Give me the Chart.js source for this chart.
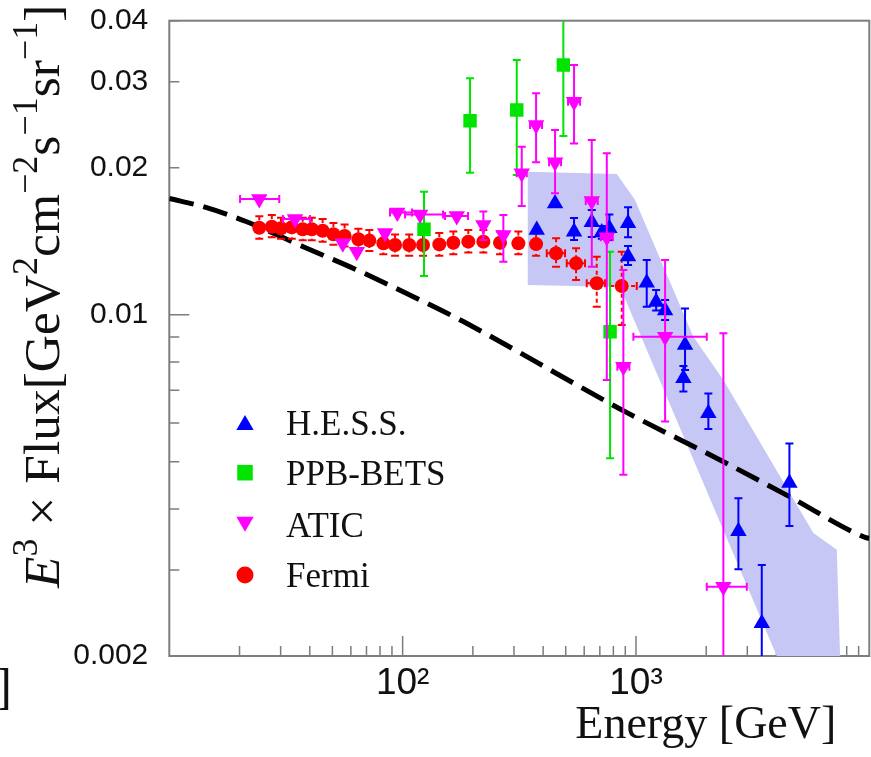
<!DOCTYPE html>
<html>
<head>
<meta charset="utf-8">
<script src="https://cdn.jsdelivr.net/npm/chart.js@4.4.0/dist/chart.umd.min.js"></script>
<style>
  body { margin: 0; background: #fff; }
</style>
</head>
<body>
<canvas id="electronChart" width="871" height="757"></canvas>
<script>
// values: energy in GeV, E^3 x flux in GeV^2 cm^-2 s^-1 sr^-1

// H.E.S.S.
const hessE  = [375.6, 450, 542.8, 646.6, 713.7, 769.1, 924.9, 924.9, 1112, 1220, 1333, 1623, 1597, 2043, 2748, 3461, 4546];
const hessF  = [0.01491, 0.0169, 0.01479, 0.01546, 0.01474, 0.01503, 0.01539, 0.01315, 0.01163, 0.01062, 0.0102, 0.00867, 0.00741, 0.00628, 0.0036, 0.002334, 0.00452];
const hessLo = [null, null, 0.01422, 0.01442, 0.0143, 0.01422, 0.0144, 0.01264, 0.01038, 0.0102, 0.00975, 0.0077, 0.00696, 0.00583, 0.00301, 0.0018, 0.00369];
const hessHi = [null, null, 0.01578, 0.01638, 0.0152, 0.01604, 0.01659, 0.01383, 0.01294, 0.01124, 0.01072, 0.0103, 0.00785, 0.0069, 0.00421, 0.00307, 0.00545];

// PPB-BETS
const ppbE  = [123.5, 194.5, 308.4, 488.4, 774.5];
const ppbF  = [0.01496, 0.02496, 0.02625, 0.03246, 0.00923];
const ppbLo = [0.012, 0.01953, 0.01932, 0.02322, 0.00508];
const ppbHi = [0.01786, 0.03048, 0.03323, 0.042, 0.01346];

// ATIC
const aticE   = [24.3, 34.6, 55.4, 63.6, 84.1, 94.9, 118.8, 170.6, 221.8, 270.2, 324, 373.2, 450, 542.8, 646.6, 749.9, 883, 1333, 2369];
const aticF   = [0.01725, 0.0157, 0.014, 0.01346, 0.0147, 0.01619, 0.01604, 0.01593, 0.01526, 0.01456, 0.01948, 0.02446, 0.02051, 0.0273, 0.01709, 0.0144, 0.00782, 0.00901, 0.002773];
const aticLo  = [null, null, null, null, null, null, null, null, 0.01423, 0.01284, 0.01669, 0.02051, 0.01773, 0.02243, 0.01254, 0.00735, 0.0047, 0.00604, 0.0015];
const aticHi  = [null, null, null, null, null, null, null, null, 0.01627, 0.016, 0.02208, 0.02841, 0.02389, 0.03246, 0.02279, 0.0214, 0.01235, 0.01294, 0.00916];
const aticELo = [20.1, 30.7, null, null, null, 88.3, 102.4, 152, null, null, 308.4, 351.6, 424.2, 511.6, 609.3, 706.7, 832.5, 974.8, 2011];
const aticEHi = [29.6, 40.1, null, null, null, 109.7, 149, 190.7, null, null, 340.4, 395.9, 477.5, 576, 686, 795.5, 936.9, 2011, 2985];

// Fermi
const fermiE   = [24.3, 27.5, 30.1, 33.5, 37.3, 40.8, 45.4, 50.5, 56.4, 64.6, 72.0, 82.7, 92.8, 106.7, 122.3, 143.6, 164.9, 191.2, 221.8, 261.5, 313.3, 373.2, 454.6, 553.7, 679, 869];
const fermiF   = [0.01507, 0.01514, 0.01503, 0.0151, 0.01496, 0.01496, 0.01486, 0.01461, 0.01449, 0.01427, 0.01418, 0.014, 0.01389, 0.01389, 0.01389, 0.01393, 0.01404, 0.01411, 0.01411, 0.01404, 0.014, 0.01395, 0.01336, 0.01274, 0.0116, 0.01145];
const fermiLo  = [0.0143, 0.0144, 0.0143, 0.0143, 0.0142, 0.0142, 0.0141, 0.0139, 0.0138, 0.0136, 0.0135, 0.0133, 0.0132, 0.0132, 0.0132, 0.0132, 0.0133, 0.0134, 0.0134, 0.0133, 0.0133, 0.0132, 0.01254, 0.01178, 0.01038, 0.00953];
const fermiHi  = [0.0159, 0.016, 0.0158, 0.0159, 0.0158, 0.0158, 0.0157, 0.0154, 0.0153, 0.015, 0.0149, 0.0148, 0.0146, 0.0146, 0.0146, 0.0147, 0.0148, 0.0149, 0.0149, 0.0148, 0.0148, 0.0147, 0.01434, 0.01368, 0.01314, 0.01346];
const fermiELo = [null, null, null, null, null, null, null, null, null, null, null, null, null, null, null, null, null, null, null, null, null, null, 414.7, 505.1, 615.2, 774.5];
const fermiEHi = [null, null, null, null, null, null, null, null, null, null, null, null, null, null, null, null, null, null, null, null, null, null, 496.7, 605, 737.3, 1008];

// H.E.S.S. systematic band (outline, in drawing order)
const bandE = [343.8, 827.6, 991, 1762, 2369, 5759, 7256, 7495, 4013, 855, 343.8];
const bandF = [0.01963, 0.01942, 0.01717, 0.00901, 0.00735, 0.00357, 0.0033, 0.002, 0.002, 0.01139, 0.0115];

// model curve (dashed)
const curveE = [10, 13.99, 21.47, 37.5, 63.6, 118.8, 182, 576, 898, 2294, 4546, 9435, 10000];
const curveF = [0.0173, 0.01664, 0.0155, 0.01378, 0.01235, 0.01072, 0.00968, 0.00712, 0.00633, 0.00504, 0.00424, 0.00351, 0.00348];

// axis ticks
const xTicks = [20, 30, 40, 50, 60, 70, 80, 90, 100, 200, 300, 400, 500, 600, 700, 800, 900, 1000, 2000, 3000, 4000, 5000, 6000, 7000, 8000, 9000];
const xTickText = { 100: '10²', 1000: '10³' };
const yTicks = [0.002, 0.003, 0.004, 0.005, 0.006, 0.007, 0.008, 0.009, 0.01, 0.02, 0.03, 0.04];
const yTickText = { 0.002: '0.002', 0.01: '0.01', 0.02: '0.02', 0.03: '0.03', 0.04: '0.04' };

function points(E, F, lo, hi, eLo, eHi) {
    return E.map((e, i) => ({
        x: e, y: F[i],
        yLo: lo ? lo[i] : null, yHi: hi ? hi[i] : null,
        xLo: eLo ? eLo[i] : null, xHi: eHi ? eHi[i] : null
    }));
}

function drawMarker(ctx, style, x, y, r, flip) {
    ctx.beginPath();
    if (style === 'circle') {
        ctx.arc(x, y, r, 0, Math.PI * 2);
    } else if (style === 'rect') {
        const s = r * Math.SQRT1_2;
        ctx.rect(x - s, y - s, 2 * s, 2 * s);
    } else {
        const d = flip ? -1 : 1;
        const w = r * Math.sin(Math.PI / 3);
        ctx.moveTo(x, y - d * r);
        ctx.lineTo(x + w, y + d * r / 2);
        ctx.lineTo(x - w, y + d * r / 2);
        ctx.closePath();
    }
    ctx.fill();
}

// error bars, drawn just under each dataset's markers
const errorBars = {
    id: 'errorBars',
    beforeDatasetDraw(chart, args) {
        const ds = chart.data.datasets[args.index];
        if (!ds.errors) return;
        const {ctx, chartArea: a, scales: {x, y}} = chart;
        ctx.save();
        ctx.beginPath();
        ctx.rect(a.left, a.top, a.right - a.left, a.bottom - a.top);
        ctx.clip();
        ctx.strokeStyle = ds.borderColor;
        ctx.lineWidth = 2;
        const cap = 4;
        ds.data.forEach(p => {
            const px = x.getPixelForValue(p.x), py = y.getPixelForValue(p.y);
            if (p.yLo != null) {
                const t = y.getPixelForValue(p.yHi), b = y.getPixelForValue(p.yLo);
                ctx.setLineDash(ds.errorDash || []);
                ctx.beginPath(); ctx.moveTo(px, t); ctx.lineTo(px, b); ctx.stroke();
                ctx.setLineDash([]);
                ctx.beginPath();
                ctx.moveTo(px - cap, t); ctx.lineTo(px + cap, t);
                ctx.moveTo(px - cap, b); ctx.lineTo(px + cap, b);
                ctx.stroke();
            }
            if (p.xLo != null) {
                const l = x.getPixelForValue(p.xLo), r = x.getPixelForValue(p.xHi);
                ctx.setLineDash(ds.errorDash || []);
                ctx.beginPath(); ctx.moveTo(l, py); ctx.lineTo(r, py); ctx.stroke();
                ctx.setLineDash([]);
                ctx.beginPath();
                ctx.moveTo(l, py - cap); ctx.lineTo(l, py + cap);
                ctx.moveTo(r, py - cap); ctx.lineTo(r, py + cap);
                ctx.stroke();
            }
        });
        ctx.restore();
    }
};

// frame plus ticks pointing into the plot
const frameTicks = {
    id: 'frameTicks',
    beforeDatasetsDraw(chart) {
        const {ctx, chartArea: a, scales: {x, y}} = chart;
        ctx.save();
        ctx.strokeStyle = '#7d7d7d';
        ctx.lineWidth = 1.5;
        ctx.beginPath();
        xTicks.forEach(v => {
            const px = x.getPixelForValue(v);
            const len = (v === 100 || v === 1000) ? 20 : 10;
            ctx.moveTo(px, a.bottom); ctx.lineTo(px, a.bottom - len);
        });
        yTicks.forEach(v => {
            const py = y.getPixelForValue(v);
            const len = v === 0.01 ? 20 : 10;
            ctx.moveTo(a.left, py); ctx.lineTo(a.left + len, py);
        });
        ctx.stroke();
        ctx.lineWidth = 2;
        ctx.strokeRect(a.left, a.top, a.right - a.left, a.bottom - a.top);
        ctx.restore();
    }
};

const yTitleParts = [
    {t: 'E', italic: true}, {t: '3', sup: true}, {t: ' × Flux[GeV'}, {t: '2', sup: true},
    {t: 'cm'}, {t: '−2', sup: true}, {t: 's'}, {t: '−1', sup: true}, {t: 'sr'}, {t: '−1', sup: true}, {t: ']'}
];

// axis titles, legend and the stray bracket at the lower left
const labels = {
    id: 'labels',
    afterDraw(chart) {
        const {ctx, chartArea: a} = chart;
        ctx.save();
        ctx.fillStyle = '#111';

        // y title, rotated
        ctx.save();
        ctx.translate(59, 588);
        ctx.rotate(-Math.PI / 2);
        ctx.textBaseline = 'alphabetic';
        let cx = 0;
        yTitleParts.forEach(p => {
            ctx.font = (p.italic ? 'italic ' : '') + (p.sup ? 36 : 51.5) + 'px "Liberation Serif"';
            ctx.fillText(p.t, cx, p.sup ? -22 : 0);
            cx += ctx.measureText(p.t).width;
        });
        ctx.restore();

        // x title
        ctx.font = '46px "Liberation Serif"';
        ctx.textAlign = 'right';
        ctx.textBaseline = 'alphabetic';
        ctx.fillText('Energy [GeV]', a.right - 33, 738);

        ctx.font = '50px "Liberation Serif"';
        ctx.fillText(']', 12, 703);

        // legend
        const rows = [
            {my: 404.3, ty: 414.3, r: 10},
            {my: 452, ty: 463.8, r: 11},
            {my: 501.1, ty: 516, r: 10},
            {my: 554.3, ty: 566.6, r: 8.5}
        ];
        ctx.textAlign = 'left';
        ctx.font = '35px "Liberation Serif"';
        chart.data.datasets.filter(d => d.inLegend).forEach((d, i) => {
            const row = rows[i];
            ctx.fillStyle = d.backgroundColor;
            drawMarker(ctx, d.pointStyle, a.left + 75.7, a.top + row.my, row.r, d.pointRotation === 180);
            ctx.fillStyle = '#111';
            ctx.fillText(d.label, a.left + 116.7, a.top + row.ty);
        });
        ctx.restore();
    }
};

const ctx = document.getElementById('electronChart');
const chart = new Chart(ctx, {
    type: 'scatter',
    data: {
        datasets: [
            {
                label: 'H.E.S.S.', inLegend: true, errors: true, order: 3,
                data: points(hessE, hessF, hessLo, hessHi),
                pointStyle: 'triangle', pointRadius: 9.5, pointBorderWidth: 0,
                backgroundColor: '#0000ff', borderColor: '#0000ff'
            },
            {
                label: 'PPB-BETS', inLegend: true, errors: true, order: 2,
                data: points(ppbE, ppbF, ppbLo, ppbHi),
                pointStyle: 'rect', pointRadius: 9.5, pointBorderWidth: 0,
                backgroundColor: '#00e400', borderColor: '#00e400'
            },
            {
                label: 'ATIC', inLegend: true, errors: true, order: 1,
                data: points(aticE, aticF, aticLo, aticHi, aticELo, aticEHi),
                pointStyle: 'triangle', pointRotation: 180, pointRadius: 9.5, pointBorderWidth: 0,
                backgroundColor: '#ff00ff', borderColor: '#ff00ff'
            },
            {
                label: 'Fermi', inLegend: true, errors: true, errorDash: [4, 3], order: 4,
                data: points(fermiE, fermiF, fermiLo, fermiHi, fermiELo, fermiEHi),
                pointStyle: 'circle', pointRadius: 7, pointBorderWidth: 0,
                backgroundColor: '#ff0000', borderColor: '#ff0000'
            },
            {
                label: 'model', type: 'line', order: 5,
                data: points(curveE, curveF),
                showLine: true, fill: false, pointRadius: 0,
                borderColor: '#000', borderWidth: 5, borderDash: [25, 10],
                cubicInterpolationMode: 'monotone'
            },
            {
                label: 'H.E.S.S. band', type: 'line', order: 6,
                data: points(bandE, bandF),
                showLine: true, fill: 'shape', pointRadius: 0,
                borderColor: 'rgba(0,0,0,0)', borderWidth: 0,
                backgroundColor: 'rgb(199,199,245)'
            }
        ]
    },
    options: {
        responsive: false,
        animation: false,
        devicePixelRatio: 1,
        layout: { autoPadding: false, padding: { left: 0, right: 1.7, top: 20.7, bottom: 0 } },
        plugins: {
            legend: { display: false },
            tooltip: { enabled: false }
        },
        scales: {
            x: {
                type: 'logarithmic', min: 10, max: 10000,
                afterBuildTicks: s => { s.ticks = xTicks.map(v => ({value: v})); },
                afterFit: s => { s.height = 101; s.paddingLeft = 0; s.paddingRight = 0; },
                grid: { display: false, drawTicks: false },
                border: { display: false },
                ticks: {
                    autoSkip: false, maxRotation: 0, minRotation: 0, padding: 6,
                    color: '#111', font: { family: 'Liberation Sans', size: 37 },
                    callback: v => xTickText[v] || ''
                }
            },
            y: {
                type: 'logarithmic', min: 0.002, max: 0.04,
                afterBuildTicks: s => { s.ticks = yTicks.map(v => ({value: v})); },
                afterFit: s => { s.width = 169.3; s.paddingTop = 0; s.paddingBottom = 0; },
                grid: { display: false, drawTicks: false },
                border: { display: false },
                ticks: {
                    autoSkip: false, padding: 21,
                    color: '#111', font: { family: 'Liberation Sans', size: 30 },
                    callback: v => yTickText[v] || ''
                }
            }
        }
    },
    plugins: [errorBars, frameTicks, labels]
});
</script>
</body>
</html>
